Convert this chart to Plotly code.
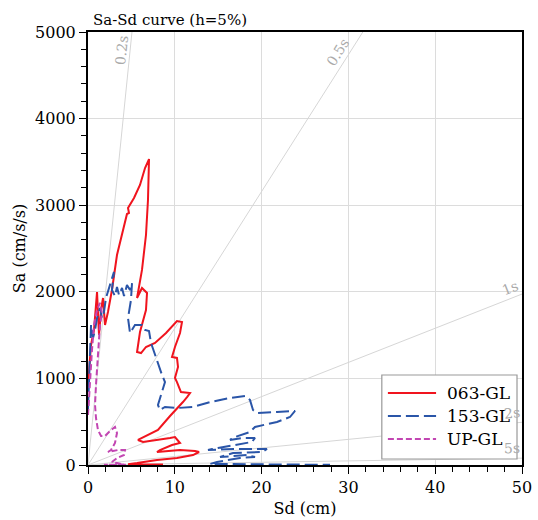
import math
import plotly.graph_objects as go

# ---- data (Sd in cm, Sa in cm/s/s) ----
sd_063 = [0.00, 0.35, 0.69, 1.04, 1.27, 1.50, 1.73, 1.96, 2.30, 2.76, 3.34, 3.92, 4.49, 4.72, 4.61,
          5.30, 5.99, 6.57, 7.03, 6.91, 6.68, 6.22, 5.65, 6.22, 6.80, 6.68, 5.99, 5.65, 6.11, 6.68,
          7.72, 8.99, 10.25, 10.83, 10.60, 10.02, 9.68, 10.25, 10.37, 10.02, 10.25, 10.71, 11.75,
          11.41, 10.94, 9.45, 8.06, 5.76, 6.34, 9.45, 10.02, 10.60, 9.68, 8.29, 7.95, 10.60, 12.33,
          12.79, 12.10, 10.25, 7.95, 5.65, 4.61, 7.14, 8.64]
sa_063 = [924, 1386, 1559, 1998, 1501, 1790, 1928, 1617, 1767, 2021, 2425, 2656, 2898, 2910, 2968,
          3083, 3233, 3429, 3533, 3060, 2656, 2252, 1928, 2044, 1986, 1790, 1536, 1305, 1293, 1363,
          1409, 1524, 1663, 1651, 1524, 1363, 1247, 1236, 1132, 1005, 958, 843, 831,
          785, 727, 566, 404, 289, 266, 312, 323, 254, 231, 173, 150, 173, 162,
          150, 115, 81, 58, 23, 10, 6, 6]

sd_153 = [0.00, 0.12, 0.23, 0.35, 0.58, 0.81, 1.04, 1.38, 1.61, 1.84, 2.07, 2.42, 2.76, 2.99, 2.76,
          3.11, 3.34, 3.57, 3.92, 4.15, 4.49, 4.84, 5.07, 4.95, 4.61, 4.84, 5.41, 6.22, 6.57, 7.03,
          7.26, 7.72, 8.06, 8.53, 8.87, 8.64, 8.29, 8.06, 8.29, 8.87, 10.25, 12.10, 14.06, 16.36,
          18.09, 18.66, 19.01, 19.47, 21.77, 23.85, 23.27, 21.77, 19.24, 18.66, 16.94, 16.36, 17.86,
          19.24, 18.89, 16.71, 14.98, 13.82, 16.71, 20.62, 20.05, 16.71, 15.21, 18.32, 19.24, 17.51,
          14.86, 14.06, 19.82, 24.42, 27.88]
sa_153 = [635, 1074, 1386, 1617, 1466, 1559, 1697, 1813, 1697, 1767, 1928, 2044, 2182, 2229, 2021,
          1951, 2055, 1963, 2044, 1951, 2078, 2021, 2102, 1905, 1697, 1524, 1617, 1617, 1559, 1547,
          1409, 1270, 1189, 1039, 958, 889, 785, 693, 635, 670, 658, 670, 727, 774,
          797, 751, 635, 600, 612, 624, 554, 497, 439, 381, 323, 289, 312,
          312, 266, 231, 196, 173, 185, 185, 150, 139, 92, 115, 92, 81,
          35, 12, 5, 3, 2]

sd_up = [0.00, 0.23, 0.46, 0.69, 1.04, 1.38, 1.61, 1.38, 1.27, 1.04, 0.92, 0.81, 0.92, 1.15, 1.50,
         1.96, 2.53, 3.11, 3.34, 3.11, 2.65, 2.30, 3.46, 4.26, 4.15, 3.34, 2.76, 3.34, 4.15, 1.84, 4.49]
sa_up = [577, 981, 1328, 1617, 1790, 1871, 1755, 1617, 1443, 1212, 924, 693, 543, 404, 335,
         335, 393, 439, 370, 254, 173, 150, 173, 173, 115, 81, 35, 23, 6, 3, 3]

series_names = ["063-GL", "153-GL", "UP-GL"]

periods = [0.2, 0.5, 1, 2, 5]
period_labels = ["0.2s", "0.5s", "1s", "2s", "5s"]
label_x = [3.9, 28.8, 48.6, 48.8, 48.8]
label_y = [4790, 4769, 2044, 600, 196]
label_angle = [-84, -57.6, -21.5, -5.7, -1]

XMAX, YMAX = 50, 5000
SERIF = "DejaVu Serif"

styles = [dict(color="#f0141e", width=2),
          dict(color="#2a55a8", width=2, dash="13px,5px"),
          dict(color="#c246b2", width=2, dash="6px,3px")]

fig = go.Figure()

# constant-period reference lines
for T in periods:
    w2 = (2 * math.pi / T) ** 2
    if w2 * XMAX > YMAX:
        xe, ye = YMAX / w2, YMAX
    else:
        xe, ye = XMAX, w2 * XMAX
    fig.add_trace(go.Scatter(x=[0, xe], y=[0, ye], mode="lines",
                             line=dict(color="#d6d6d6", width=1),
                             showlegend=False, hoverinfo="skip"))

for xs, ys, nm, st in zip([sd_063, sd_153, sd_up], [sa_063, sa_153, sa_up], series_names, styles):
    fig.add_trace(go.Scatter(x=xs, y=ys, mode="lines", name=nm, line=st, showlegend=False))

for t, x, y, a in zip(period_labels, label_x, label_y, label_angle):
    fig.add_annotation(x=x, y=y, text=t, textangle=a, showarrow=False,
                       font=dict(family=SERIF, size=14, color="#aaaaaa"))

fig.add_annotation(xref="paper", yref="paper", x=0.008, y=1, xanchor="left", yanchor="bottom",
                   text="Sa-Sd curve (h=5%)", showarrow=False, yshift=1,
                   font=dict(family=SERIF, size=15, color="black"))

# boxed key
fig.add_shape(type="rect", xref="paper", yref="paper", x0=0.677, x1=0.9885, y0=0.0139, y1=0.2079,
              line=dict(color="#999999", width=1.2), fillcolor="white", layer="above")
leg_y = [0.1663, 0.1132, 0.0600]
for nm, st, yy in zip(series_names, styles, leg_y):
    fig.add_shape(type="line", xref="paper", yref="paper", x0=0.691, x1=0.802, y0=yy, y1=yy,
                  line=st, layer="above")
    fig.add_annotation(xref="paper", yref="paper", x=0.8226, y=yy, xanchor="left", yanchor="middle",
                       text=nm, showarrow=False, font=dict(family=SERIF, size=17, color="black"))

axis_common = dict(showline=True, linecolor="black", linewidth=2, mirror=True,
                   ticks="outside", ticklen=7, tickcolor="black", tickwidth=1,
                   showgrid=True, gridcolor="#dcdcdc", gridwidth=1, zeroline=False,
                   automargin=False,
                   tickfont=dict(family=SERIF, size=16, color="black"))

fig.update_layout(
    width=538, height=520,
    margin=dict(l=88, r=16, t=32, b=55),
    paper_bgcolor="white", plot_bgcolor="white",
    font=dict(family=SERIF),
    xaxis=dict(range=[0, XMAX], dtick=10, tick0=0,
               minor=dict(dtick=2, ticks="outside", ticklen=5, tickcolor="black", showgrid=False),
               title=dict(text="Sd (cm)", font=dict(family=SERIF, size=16, color="black"), standoff=7),
               **axis_common),
    yaxis=dict(range=[0, YMAX], dtick=1000, tick0=0,
               minor=dict(dtick=200, ticks="outside", ticklen=5, tickcolor="black", showgrid=False),
               title=dict(text="Sa (cm/s/s)", font=dict(family=SERIF, size=16, color="black"), standoff=5),
               **axis_common),
    showlegend=False,
)

fig.write_html("out.html")
